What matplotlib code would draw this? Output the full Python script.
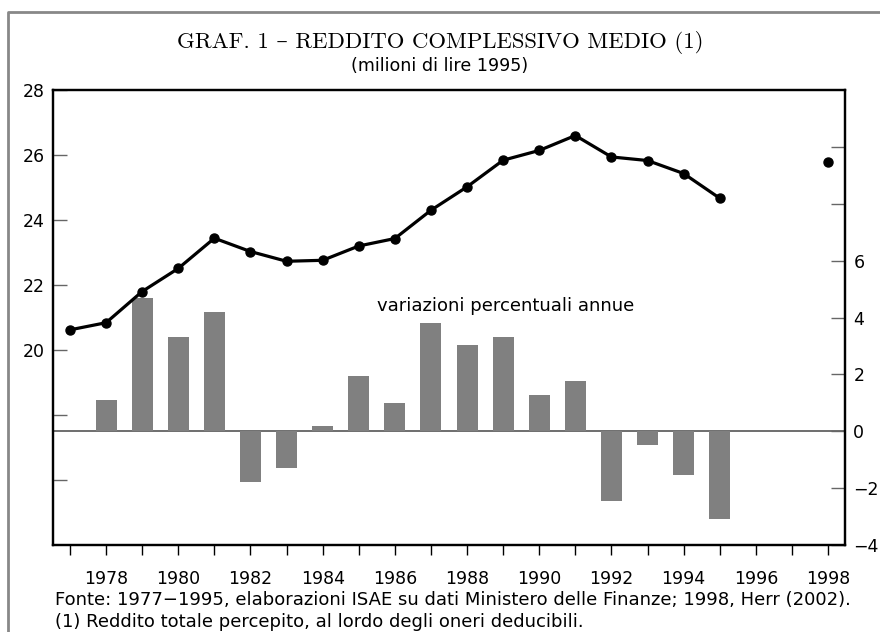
import matplotlib
matplotlib.use('Agg')
import matplotlib.pyplot as plt
from matplotlib.lines import Line2D

# dati: reddito medio (milioni di lire 1995) e variazioni % annue
anni = list(range(1977, 1996))
reddito = [20.62, 20.84, 21.80, 22.51, 23.44, 23.03, 22.73, 22.76, 23.20, 23.43,
           24.30, 25.02, 25.84, 26.14, 26.60, 25.94, 25.83, 25.43, 24.67]
anno_herr = [1998]
reddito_herr = [25.78]

anni_var = list(range(1978, 1996))
variazioni = [1.09, 4.70, 3.33, 4.21, -1.78, -1.29, 0.18, 1.96, 0.98, 3.82,
              3.02, 3.33, 1.26, 1.75, -2.44, -0.48, -1.53, -3.08]

tick_anni = list(range(1977, 1999))
label_anni = [str(a) if a % 2 == 0 else '' for a in tick_anni]

sx_ticks = [16, 18, 20, 22, 24, 26, 28]
sx_labels = ['', '', '20', '22', '24', '26', '28']
dx_ticks = [-4, -2, 0, 2, 4, 6, 8, 10]
dx_labels = ['\u22124', '\u22122', '0', '2', '4', '6', '', '']

fig = plt.figure(figsize=(8.8, 6.32), dpi=100)
ax = fig.add_axes([53 / 880, 1 - 545 / 632, 792 / 880, 455 / 632])
ax2 = ax.twinx()
ax.set_zorder(ax2.get_zorder() + 1)
ax.patch.set_visible(False)

# barre sull'asse destro
ax2.bar(anni_var, variazioni, width=0.58, color='#808080', zorder=2)
ax2.axhline(0, color='#555555', linewidth=1.2, zorder=1)
ax2.set_ylim(-4, 12)
ax2.set_yticks(dx_ticks)
ax2.set_yticklabels(dx_labels)
ax2.tick_params(axis='y', direction='in', length=10, width=1, color='#666666',
                labelsize=12.5, pad=6)
ax2.text(1989.08, 4.39, 'variazioni percentuali annue', ha='center', va='center',
         fontsize=13)

# linea sull'asse sinistro
ax.plot(anni, reddito, color='black', linewidth=2.3, marker='o', markersize=6.5,
        zorder=3)
ax.plot(anno_herr, reddito_herr, color='black', linestyle='none', marker='o',
        markersize=6.5, zorder=3)
ax.set_ylim(14, 28)
ax.set_xlim(1976.53, 1998.47)
ax.set_yticks(sx_ticks)
ax.set_yticklabels(sx_labels)
ax.tick_params(axis='y', direction='in', length=10, width=1, color='#666666',
               labelsize=12.5, pad=6)
ax.set_xticks(tick_anni)
ax.set_xticklabels(label_anni)
ax.tick_params(axis='x', direction='out', length=7, width=1, labelsize=12.5, pad=11)

for a in (ax, ax2):
    for s in a.spines.values():
        s.set_linewidth(1.6)
        s.set_color('black')

fig.text(0.5, 1 - 42 / 632, 'GRAF. 1 \u2013 REDDITO COMPLESSIVO MEDIO (1)', ha='center',
         va='center', fontsize=16.4, family=['cmr10', 'DejaVu Serif'])
fig.text(0.5, 1 - 66 / 632, '(milioni di lire 1995)', ha='center', va='center',
         fontsize=12.6)
fig.text(55 / 880, 1 - 600 / 632,
         'Fonte: 1977\u22121995, elaborazioni ISAE su dati Ministero delle Finanze; 1998, Herr (2002).',
         ha='left', va='center', fontsize=13)
fig.text(55 / 880, 1 - 622 / 632,
         '(1) Reddito totale percepito, al lordo degli oneri deducibili.',
         ha='left', va='center', fontsize=13)

# cornice esterna (solo lati sinistro e superiore visibili)
fig.add_artist(Line2D([8 / 880, 8 / 880, 1.0], [0.0, 1 - 12 / 632, 1 - 12 / 632],
                      transform=fig.transFigure, color='#888888', linewidth=2))

fig.savefig('out.png', dpi=100)
